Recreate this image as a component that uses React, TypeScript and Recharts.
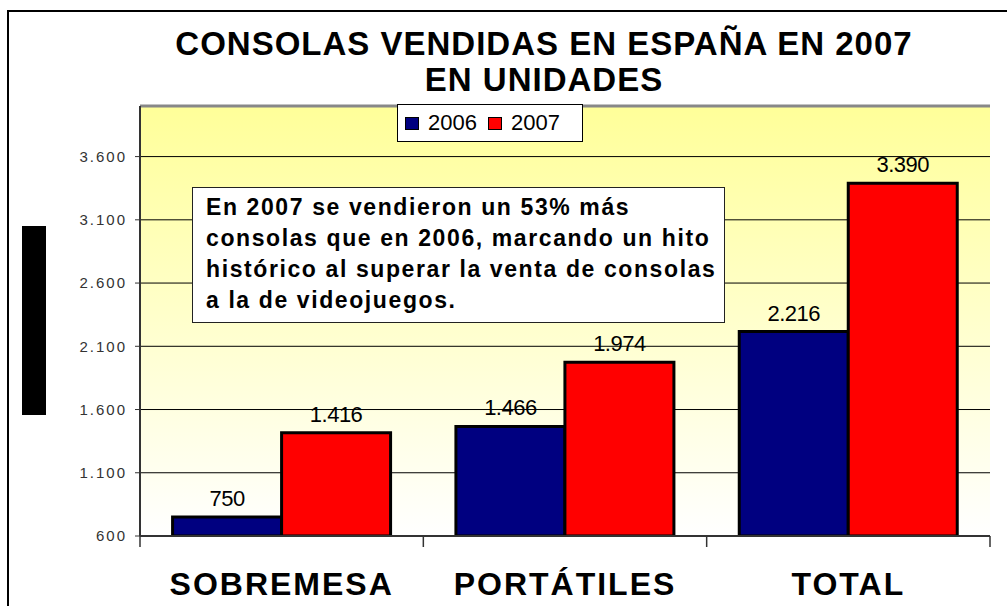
import {
  BarChart,
  Bar,
  XAxis,
  YAxis,
  CartesianGrid,
  LabelList,
  Legend,
  ReferenceLine,
} from 'recharts'

const categories = ['SOBREMESA', 'PORTÁTILES', 'TOTAL']
const ventas2006 = [750, 1466, 2216]
const ventas2007 = [1416, 1974, 3390]
const yTicks = [600, 1100, 1600, 2100, 2600, 3100, 3600]
const yDomain = [600, 4000]
const series = [
  { key: 'v2006', name: '2006', color: '#000080' },
  { key: 'v2007', name: '2007', color: '#FF0000' },
]
const noteLines = [
  'En 2007 se vendieron un 53% más',
  'consolas que en 2006, marcando un hito',
  'histórico al superar la venta de consolas',
  'a la de videojuegos.',
]

const data = categories.map((name, i) => ({
  name,
  v2006: ventas2006[i],
  v2007: ventas2007[i],
}))

const FONT = '"Liberation Sans", Arial, sans-serif'

// thousands with a dot, as in the original sheet
const fmt = (v: number) => String(v).replace(/\B(?=(\d{3})+(?!\d))/g, '.')

const LegendBox = (props: any) => {
  const items = props.payload || []
  return (
    <div
      style={{
        display: 'flex',
        alignItems: 'center',
        height: 38,
        boxSizing: 'border-box',
        border: '1px solid #000',
        background: '#fff',
        padding: '0 0 0 7px',
        fontFamily: FONT,
        fontSize: 22,
        color: '#000',
      }}
    >
      {items.map((entry: any) => (
        <span
          key={entry.value}
          style={{ display: 'flex', alignItems: 'center', marginRight: 11 }}
        >
          <span
            style={{
              width: 12,
              height: 11,
              background: entry.color,
              border: '1px solid #000',
              marginRight: 9,
            }}
          />
          {entry.value}
        </span>
      ))}
    </div>
  )
}

// category label plus tick marks on the band edges (Excel style)
const CategoryTick = (props: any) => {
  const { x, y, payload, index, visibleTicksCount } = props
  const half = payload.offset || 0
  const last = index === visibleTicksCount - 1
  return (
    <g>
      <line x1={x - half} x2={x - half} y1={y} y2={y + 11} stroke='#333' strokeWidth={1.5} />
      {last && (
        <line x1={x + half} x2={x + half} y1={y} y2={y + 11} stroke='#333' strokeWidth={1.5} />
      )}
      <text
        x={x}
        y={y + 59}
        textAnchor='middle'
        fill='#000'
        fontSize={32}
        fontWeight='bold'
        fontFamily={FONT}
        letterSpacing={2}
      >
        {payload.value}
      </text>
    </g>
  )
}

export default function App() {
  return (
    <div
      style={{
        position: 'absolute',
        left: 0,
        top: 0,
        width: 1007,
        height: 606,
        overflow: 'hidden',
        background: '#fff',
        fontFamily: FONT,
      }}
    >
      {/* outer frame, only top and left edges are in view */}
      <div
        style={{
          position: 'absolute',
          left: 7,
          top: 10,
          width: 1100,
          height: 700,
          borderLeft: '2px solid #000',
          borderTop: '2px solid #000',
        }}
      />
      <div
        style={{
          position: 'absolute',
          left: 144,
          top: 26,
          width: 800,
          textAlign: 'center',
          fontSize: 33,
          lineHeight: '36px',
          fontWeight: 'bold',
          letterSpacing: 1,
          color: '#000',
        }}
      >
        <div>CONSOLAS VENDIDAS EN ESPAÑA EN 2007</div>
        <div>EN UNIDADES</div>
      </div>
      <div
        style={{
          position: 'absolute',
          left: 22,
          top: 226,
          width: 24,
          height: 189,
          background: '#000',
        }}
      />

      <div style={{ position: 'absolute', left: 0, top: 0 }}>
        <BarChart
          width={1007}
          height={606}
          data={data}
          margin={{ top: 106, right: 17, bottom: 0, left: 0 }}
          barCategoryGap='11.5%'
          barGap={0}
        >
          <defs>
            <linearGradient id='plotBg' x1='0' y1='0' x2='0' y2='1'>
              <stop offset='0%' stopColor='#FFFF99' />
              <stop offset='100%' stopColor='#FFFFFF' />
            </linearGradient>
          </defs>
          <CartesianGrid
            vertical={false}
            stroke='#000'
            strokeWidth={1}
            fill='url(#plotBg)'
            fillOpacity={1}
          />
          <XAxis
            dataKey='name'
            height={70}
            tickLine={false}
            tickSize={0}
            tickMargin={0}
            axisLine={{ stroke: '#333', strokeWidth: 2 }}
            tick={<CategoryTick />}
            interval={0}
          />
          <XAxis xAxisId='edges' type='number' domain={[0, 3]} allowDataOverflow hide />
          <YAxis
            width={140}
            domain={yDomain}
            ticks={yTicks}
            allowDataOverflow
            tickFormatter={fmt}
            tickSize={5}
            tickMargin={8}
            axisLine={{ stroke: '#333', strokeWidth: 2 }}
            tickLine={{ stroke: '#333' }}
            tick={{
              fill: '#333',
              fontSize: 15,
              fontFamily: FONT,
              letterSpacing: 2,
            }}
          />
          <ReferenceLine y={4000} stroke='#888' strokeWidth={3} />
          <ReferenceLine xAxisId='edges' x={3} stroke='#888' strokeWidth={3} />
          <Legend
            layout='horizontal'
            verticalAlign='middle'
            align='center'
            content={<LegendBox />}
            wrapperStyle={{ left: 397, top: 104, width: 186, height: 38 }}
          />
          {series.map((s) => (
            <Bar
              key={s.key}
              dataKey={s.key}
              name={s.name}
              fill={s.color}
              stroke='#000'
              strokeWidth={3}
              isAnimationActive={false}
            >
              <LabelList
                dataKey={s.key}
                position='top'
                offset={11}
                formatter={(v: any) => fmt(Number(v))}
                style={{
                  fill: '#000',
                  fontSize: 22,
                  fontFamily: FONT,
                  letterSpacing: -0.5,
                }}
              />
            </Bar>
          ))}
        </BarChart>
      </div>

      <div
        style={{
          position: 'absolute',
          left: 192,
          top: 187,
          width: 533,
          height: 136,
          boxSizing: 'border-box',
          border: '1.5px solid #222',
          background: '#fff',
          padding: '4px 0 0 13px',
          fontSize: 23,
          lineHeight: '31px',
          fontWeight: 'bold',
          letterSpacing: 1.6,
          color: '#000',
          whiteSpace: 'nowrap',
        }}
      >
        {noteLines.map((l) => (
          <div key={l}>{l}</div>
        ))}
      </div>
    </div>
  )
}
